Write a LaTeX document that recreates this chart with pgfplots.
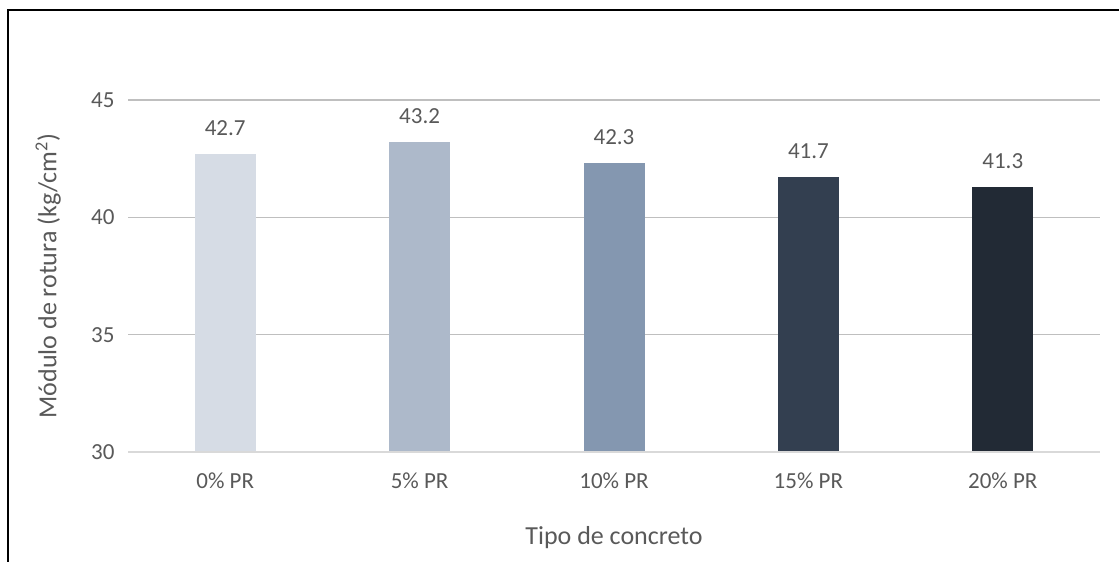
\documentclass[border=0pt]{standalone}
\usepackage{pgfplots}
\pgfplotsset{compat=1.18}
\usepackage{fontspec}
\setmainfont{Carlito}
\definecolor{txt}{HTML}{595959}
\definecolor{grid}{HTML}{D9D9D9}
\definecolor{c1}{HTML}{D6DCE5}
\definecolor{c2}{HTML}{ADB9CA}
\definecolor{c3}{HTML}{8497B0}
\definecolor{c4}{HTML}{333F50}
\definecolor{c5}{HTML}{222A35}
\begin{document}
\begin{tikzpicture}[x=1pt,y=1pt]
\path[use as bounding box] (0,0) rectangle (1119,562);
\draw[black,line width=1.8pt] (8,0) -- (8,552) -- (1119,552);
\begin{axis}[
  at={(128pt,110pt)}, anchor=south west,
  scale only axis, width=972pt, height=352pt,
  xmin=-0.5, xmax=4.5, ymin=30, ymax=45,
  xtick={0,1,2,3,4},
  xticklabels={0\% PR,5\% PR,10\% PR,15\% PR,20\% PR},
  ytick={30,35,40,45},
  axis line style={draw=none},
  major tick length=0pt,
  tick style={draw=none},
  xmajorgrids=false,
  ymajorgrids, grid style={grid, line width=1.2pt},
  /pgf/number format/assume math mode=true,
  ticklabel style={font=\fontsize{23}{27}\selectfont, text=txt},
  yticklabel style={xshift=-10pt},
  xticklabel style={yshift=-17pt},
  ybar, bar width=61pt, bar shift=0pt,
  nodes near coords={\pgfmathprintnumber[fixed,fixed zerofill,precision=1]{\pgfplotspointmeta}},
  every node near coord/.append style={font=\fontsize{23}{27}\selectfont, text=txt, yshift=15pt},
  xlabel={Tipo de concreto},
  ylabel={Módulo de rotura (kg/cm\textsuperscript{2})},
  label style={font=\fontsize{26}{30}\selectfont, text=txt},
  xlabel style={at={(axis description cs:0.5,0)}, anchor=center, yshift=-86pt},
  ylabel style={at={(axis description cs:-0.082,0.5)}, anchor=center},
  clip=false,
]
\addplot[fill=c1, draw=none] coordinates {(0,42.7)};
\addplot[fill=c2, draw=none] coordinates {(1,43.2)};
\addplot[fill=c3, draw=none] coordinates {(2,42.3)};
\addplot[fill=c4, draw=none] coordinates {(3,41.7)};
\addplot[fill=c5, draw=none] coordinates {(4,41.3)};
\draw[grid, line width=1.2pt] (axis cs:-0.5,30) -- (axis cs:4.5,30);
\end{axis}
\end{tikzpicture}
\end{document}
